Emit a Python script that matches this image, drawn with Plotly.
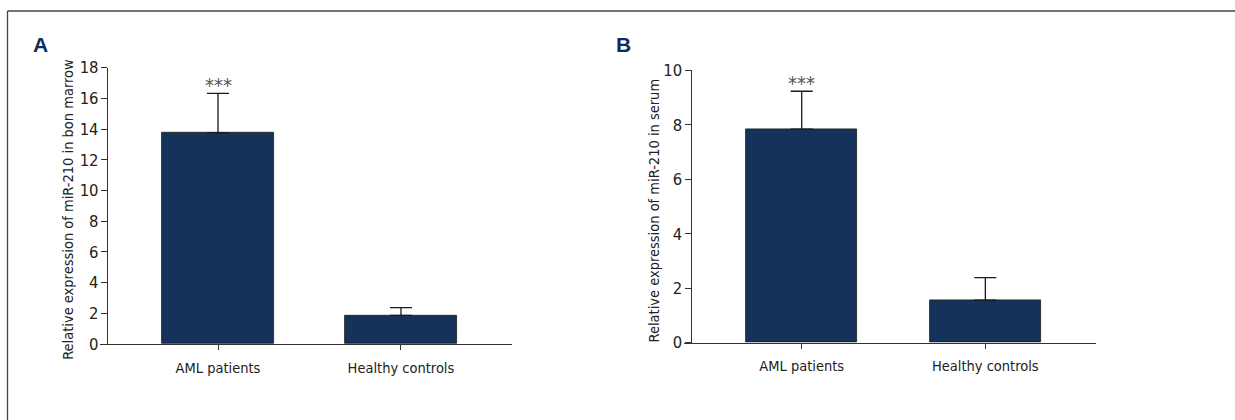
import plotly.graph_objects as go

W, H = 1235, 420

categories = ["AML patients", "Healthy controls"]

# Panel A: bone marrow
marrow_mean = [13.77, 1.87]
marrow_sd = [2.56, 0.50]
marrow_ticks = [0, 2, 4, 6, 8, 10, 12, 14, 16, 18]

# Panel B: serum
serum_mean = [7.84, 1.56]
serum_sd = [1.39, 0.83]
serum_ticks = [0, 2, 4, 6, 8, 10]

significance = "***"

BAR = "#14325a"
INK = "#333333"
FONT = "DejaVu Sans Condensed, Liberation Sans Narrow, Roboto, sans-serif"


def px_x(p):
    return p / W


def px_y(p):
    return (H - p) / H


fig = go.Figure()

panels = [
    dict(mean=marrow_mean, sd=marrow_sd, ticks=marrow_ticks, ymax=18,
         xa="x", ya="y", xd=(100, 512), yd=(344, 67.7), yaxis_px=107,
         xr=(-0.645, 1.607), width=0.61, title_x=68,
         title="Relative expression of miR-210 in bon marrow"),
    dict(mean=serum_mean, sd=serum_sd, ticks=serum_ticks, ymax=10,
         xa="x2", ya="y2", xd=(684, 1095.7), yd=(342.7, 70.3), yaxis_px=690.7,
         xr=(-0.641, 1.601), width=0.605, title_x=653,
         title="Relative expression of miR-210 in serum"),
]

for i, p in enumerate(panels):
    fig.add_trace(go.Bar(
        x=categories, y=p["mean"], xaxis=p["xa"], yaxis=p["ya"],
        width=p["width"],
        marker=dict(color=BAR, line=dict(color="#1a1a1a", width=0.8)),
        error_y=dict(type="data", array=p["sd"], arrayminus=[0, 0],
                     symmetric=False, color="#1a1a1a", thickness=1.3, width=11),
        showlegend=False,
    ))
    # significance mark above the first bar's error cap
    fig.add_annotation(
        x=categories[0], y=p["mean"][0] + p["sd"][0], xref=p["xa"], yref=p["ya"],
        text=significance, showarrow=False, yanchor="bottom", yshift=-6,
        font=dict(family=FONT, size=20, color="#555555"),
    )
    # y-axis title, placed as rotated text
    y0, y1 = p["yd"]
    fig.add_annotation(
        x=px_x(p["title_x"]), y=px_y((y0 + y1) / 2 + 4), xref="paper", yref="paper",
        text=p["title"], showarrow=False, textangle=-90,
        xanchor="center", yanchor="middle",
        font=dict(family=FONT, size=14.5, color="#222222"),
    )
    sfx = "" if i == 0 else "2"
    fig.update_layout(**{
        "xaxis" + sfx: dict(
            domain=[px_x(p["xd"][0]), px_x(p["xd"][1])], range=list(p["xr"]),
            anchor=p["ya"], showline=True, linecolor=INK, linewidth=1.3,
            ticks="outside", ticklen=5, tickwidth=1.3, tickcolor=INK,
            ticklabelstandoff=5,
            tickfont=dict(family=FONT, size=14.5, color="#222222"),
            showgrid=False, zeroline=False, fixedrange=True, automargin=False,
        ),
        "yaxis" + sfx: dict(
            domain=[px_y(p["yd"][0]), px_y(p["yd"][1])], range=[0, p["ymax"]],
            anchor="free", position=px_x(p["yaxis_px"]),
            tickvals=p["ticks"], showline=True, linecolor=INK, linewidth=1.3,
            ticks="outside", ticklen=6, tickwidth=1.3, tickcolor=INK,
            ticklabelstandoff=-1,
            tickfont=dict(family=FONT, size=16.5, color="#222222"),
            showgrid=False, zeroline=False, fixedrange=True, automargin=False,
        ),
    })

# panel letters
for letter, xp in (("A", 31), ("B", 614)):
    fig.add_annotation(
        x=px_x(xp), y=px_y(45), xref="paper", yref="paper", text="<b>%s</b>" % letter,
        showarrow=False, xanchor="left", yanchor="middle",
        font=dict(family="Liberation Sans, Arial, sans-serif", size=21, color="#0d2e5c"),
    )

# frame lines along the top and left edges
fig.add_shape(type="line", xref="paper", yref="paper",
              x0=px_x(7.5), x1=1, y0=px_y(11), y1=px_y(11),
              line=dict(color="#444444", width=1.3))
fig.add_shape(type="line", xref="paper", yref="paper",
              x0=px_x(7.5), x1=px_x(7.5), y0=px_y(11), y1=0,
              line=dict(color="#444444", width=1.3))

fig.update_layout(
    width=W, height=H, margin=dict(l=0, r=0, t=0, b=0, autoexpand=False),
    paper_bgcolor="white", plot_bgcolor="white",
    bargap=0, showlegend=False,
)

fig.write_html("out.html")
